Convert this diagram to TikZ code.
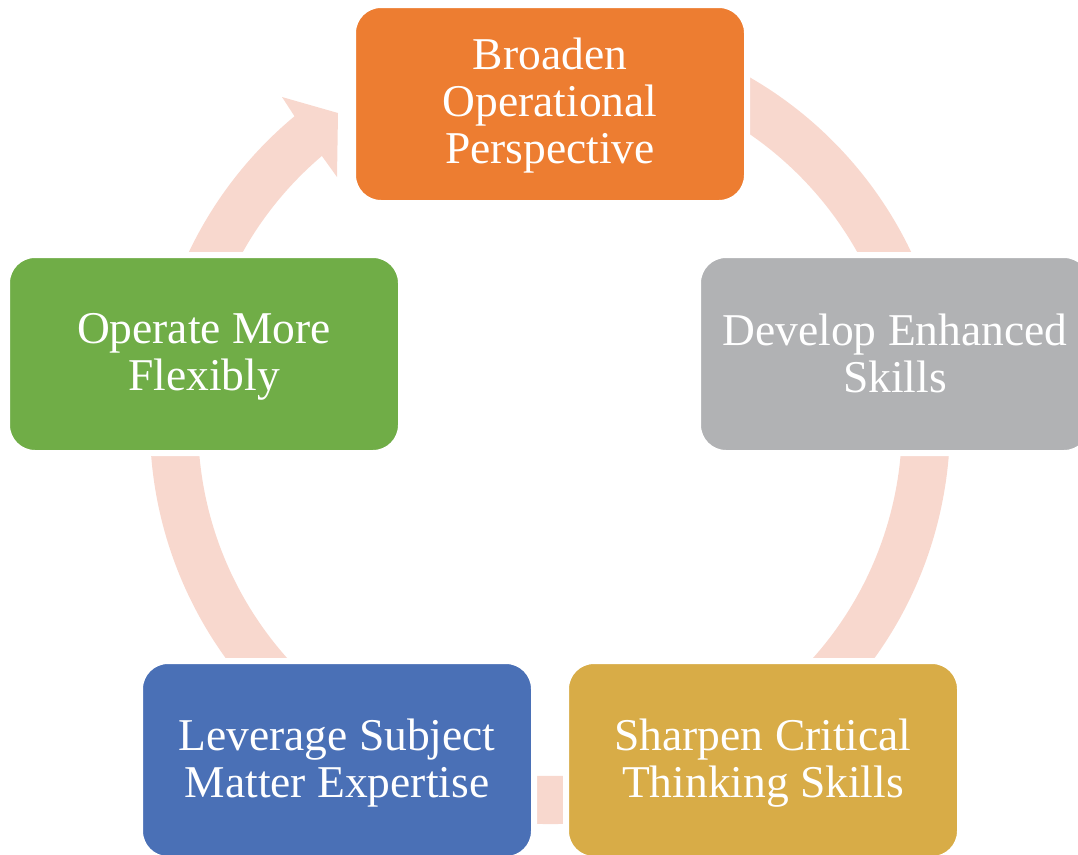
\documentclass[tikz,border=0pt]{standalone}
\usepackage{fontspec}
\setmainfont{Liberation Serif}
\definecolor{cOrange}{HTML}{ED7D31}
\definecolor{cGray}{HTML}{B1B2B4}
\definecolor{cGold}{HTML}{D8AC47}
\definecolor{cBlue}{HTML}{4A70B6}
\definecolor{cGreen}{HTML}{70AD47}
\definecolor{cBand}{HTML}{F8D8CE}
\tikzset{
  cyclebox/.style={rounded corners=28pt, draw=white, line width=6pt, inner sep=0pt,
    minimum width=394pt, minimum height=198pt},
  boxlabel/.style={inner sep=0pt, align=center, text=white,
    font=\fontsize{45.5}{47}\selectfont},
  band/.style={fill=cBand}
}
\begin{document}
\begin{tikzpicture}[x=1pt,y=-1pt]
\useasboundingbox (0,0) rectangle (1078,854);
\clip (0,0) rectangle (1078,854);
\coordinate (C) at (550,424);
% cycle band with arrowhead
\fill[band] ([shift={(C)}]-80:400) arc[start angle=-80,end angle=230.3,radius=400]
  -- (282,97) coordinate (barbout) -- (338,113) coordinate (tip) -- (337,177) coordinate (barbin)
  -- ([shift={(C)}]229.6:352) arc[start angle=229.6,end angle=-80,radius=352] -- cycle;
% boxes
\node[cyclebox, fill=cOrange] (broaden) at (550,104) {};
\node[cyclebox, fill=cGray] (develop) at (895,354) {};
\node[cyclebox, fill=cGold] (sharpen) at (763,760) {};
\node[cyclebox, fill=cBlue] (leverage) at (337,760) {};
\node[cyclebox, fill=cGreen] (operate) at (204,354) {};
% labels
\node[boxlabel] (broadenT) at ([yshift=-2pt]broaden.center) {Broaden\\Operational\\Perspective};
\node[boxlabel] (developT) at ([yshift=1pt]develop.center) {Develop Enhanced\\Skills};
\node[boxlabel] (sharpenT) at ([yshift=-3pt]sharpen.center) {Sharpen Critical\\Thinking Skills};
\node[boxlabel] (leverageT) at ([yshift=-3pt]leverage.center) {Leverage Subject\\Matter Expertise};
\node[boxlabel] (operateT) at ([yshift=-2.5pt]operate.center) {Operate More\\Flexibly};
\end{tikzpicture}
\end{document}
